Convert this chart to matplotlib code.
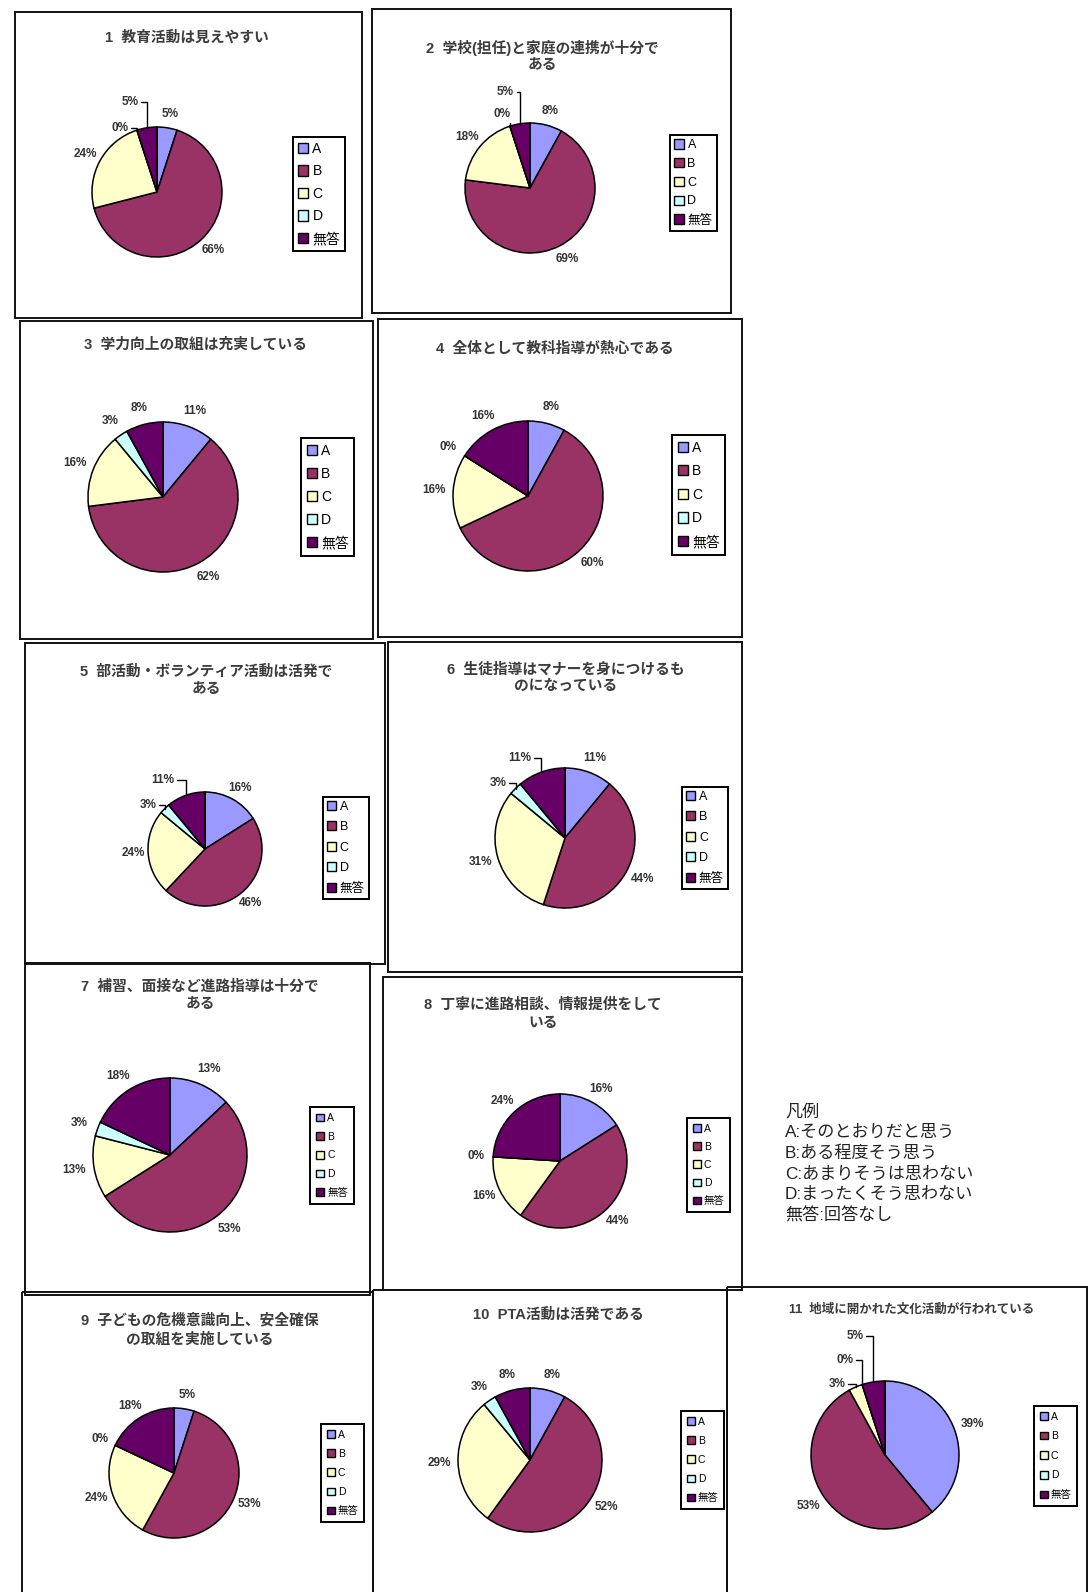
import matplotlib
matplotlib.use('Agg')
import matplotlib.pyplot as plt
from matplotlib.patches import Rectangle, Patch
import numpy as np

plt.rcParams['font.family'] = ['Liberation Sans', 'Noto Sans CJK JP', 'DejaVu Sans']

# ---------------- data ----------------
categories = ['A', 'B', 'C', 'D', '無答']
colors = ['#9999FF', '#993366', '#FFFFCC', '#CCFFFF', '#660066']

q1 = [5, 66, 24, 0, 5]
q2 = [8, 69, 18, 0, 5]
q3 = [11, 62, 16, 3, 8]
q4 = [8, 60, 16, 0, 16]
q5 = [16, 46, 24, 3, 11]
q6 = [11, 44, 31, 3, 11]
q7 = [13, 53, 13, 3, 18]
q8 = [16, 44, 16, 0, 24]
q9 = [5, 53, 24, 0, 18]
q10 = [8, 52, 29, 3, 8]
q11 = [39, 53, 3, 0, 5]

titles = [
    '1  教育活動は見えやすい',
    '2  学校(担任)と家庭の連携が十分で\nある',
    '3  学力向上の取組は充実している',
    '4  全体として教科指導が熱心である',
    '5  部活動・ボランティア活動は活発で\nある',
    '6  生徒指導はマナーを身につけるも\nのになっている',
    '7  補習、面接など進路指導は十分で\nある',
    '8  丁寧に進路相談、情報提供をして\nいる',
    '9  子どもの危機意識向上、安全確保\nの取組を実施している',
    '10  PTA活動は活発である',
    '11  地域に開かれた文化活動が行われている',
]

legend_notes = ['凡例', 'A:そのとおりだと思う', 'B:ある程度そう思う',
                'C:あまりそうは思わない', 'D:まったくそう思わない', '無答:回答なし']

values = [q1, q2, q3, q4, q5, q6, q7, q8, q9, q10, q11]

# ---------------- layout (pixels) ----------------
W, H = 1088, 1592
layout = [
    dict(box=(15, 12, 362, 318), pie=(157, 192, 65), title=(187, 38, 10.6, 17), leg=(293, 137, 10, 22.4, 0.35),
         lead={3: (-0.57, 0.98), 4: (-0.42, 1.38)}),
    dict(box=(372, 9, 731, 313), pie=(530, 188, 65), title=(542, 48, 10.6, 17), leg=(670, 135, 9, 19.2, 0.35),
         lead={3: (-0.43, 1.14), 4: (-0.38, 1.48)}),
    dict(box=(20, 321, 373, 639), pie=(163, 497, 75), title=(195, 345, 10.6, 17), leg=(301, 438, 10, 23, 0.4),
         lead={}),
    dict(box=(378, 319, 742, 637), pie=(528, 496, 75), title=(555, 349, 10.6, 17), leg=(672, 435, 10, 23.5, 0.4),
         lead={}),
    dict(box=(25, 643, 385, 964), pie=(205, 849, 57), title=(206, 672, 10.6, 17), leg=(323, 797, 9, 21, 0.3),
         lead={3: (-1.0, 0.77), 4: (-0.74, 1.21)}),
    dict(box=(388, 642, 742, 972), pie=(565, 838, 70), title=(566, 670, 10.6, 16), leg=(682, 787, 9, 21, 0.3),
         lead={3: (-0.96, 0.79), 4: (-0.64, 1.14)}),
    dict(box=(25, 963, 370, 1295), pie=(170, 1155, 77), title=(200, 987, 10.6, 17), leg=(310, 1107, 7.5, 19, 0.6),
         lead={}),
    dict(box=(383, 977, 742, 1290), pie=(560, 1161, 67), title=(543, 1005, 10.6, 18), leg=(687, 1118, 7.5, 18.5, 0.55),
         lead={}),
    dict(box=(22, 1292, 373, 1600), pie=(174, 1473, 65), title=(200, 1320, 10.6, 20), leg=(321, 1424, 7.5, 19.5, 0.55),
         lead={}),
    dict(box=(373, 1290, 727, 1600), pie=(530, 1460, 72), title=(558, 1315, 10.6, 17), leg=(681, 1411, 7.5, 19.5, 0.55),
         lead={}),
    dict(box=(727, 1287, 1087, 1600), pie=(885, 1455, 74), title=(912, 1309, 9.0, 17), leg=(1034, 1406, 7.5, 20, 0.55),
         lead={2: (-0.65, 0.96), 3: (-0.54, 1.28), 4: (-0.41, 1.61)}),
]

fig = plt.figure(figsize=(W / 100, H / 100), dpi=100)
bg = fig.add_axes([0, 0, 1, 1])
bg.set_xlim(0, W)
bg.set_ylim(H, 0)
bg.axis('off')

label_color = '#333333'
label_fs = 8.5

for vals, title, lay in zip(values, titles, layout):
    x0, y0, x1, y1 = lay['box']
    bg.add_patch(Rectangle((x0, y0), x1 - x0, y1 - y0, fill=False, edgecolor='#111111', lw=1.4))

    tx, ty, tfs, tdy = lay['title']
    for i, line in enumerate(title.split('\n')):
        bg.text(tx, ty + i * tdy, line, ha='center', va='center', fontsize=tfs,
                color='#3c3c3c', fontweight='bold')

    cx, cy, r = lay['pie']
    ax = fig.add_axes([(cx - r) / W, 1 - (cy + r) / H, 2 * r / W, 2 * r / H])
    wedges, _ = ax.pie(vals, colors=colors, startangle=90, counterclock=False, radius=1,
                       wedgeprops=dict(edgecolor='black', linewidth=1.1))
    ax.set_xlim(-1, 1)
    ax.set_ylim(-1, 1)
    ax.set_aspect('equal')
    ax.axis('off')

    for k, (w, v) in enumerate(zip(wedges, vals)):
        mid = np.deg2rad((w.theta1 + w.theta2) / 2)
        txt = f'{v}%'
        if k in lay['lead']:
            lx, ly = lay['lead'][k]
            ex, ey = np.cos(mid), np.sin(mid)
            ax.annotate(txt, xy=(ex, ey), xytext=(lx, ly), ha='center', va='center',
                        fontsize=label_fs, fontweight='bold', color=label_color, annotation_clip=False,
                        arrowprops=dict(arrowstyle='-', color='black', lw=1.0, shrinkA=0, shrinkB=0,
                                        relpos=(1, 0.5),
                                        connectionstyle='angle,angleA=0,angleB=90,rad=0'))
        else:
            ax.text(1.26 * np.cos(mid), 1.22 * np.sin(mid), txt, ha='center', va='center',
                    fontsize=label_fs, fontweight='bold', color=label_color, clip_on=False)

    lx, ly, lfs, pitch, bpad = lay['leg']
    fs_px = lfs * 100 / 72
    handles = [Patch(facecolor=c, edgecolor='black', linewidth=1.0) for c in colors]
    leg = fig.legend(handles, categories, loc='upper left', bbox_to_anchor=(lx / W, 1 - ly / H),
                     frameon=True, fancybox=False, edgecolor='black', framealpha=1,
                     borderpad=bpad, borderaxespad=0, handlelength=0.75, handleheight=0.75,
                     handletextpad=0.3, labelspacing=max(pitch / fs_px - 1.0, 0.1), fontsize=lfs)
    leg.get_frame().set_linewidth(1.4)

for i, line in enumerate(legend_notes):
    bg.text(785, 1112 + 20.6 * i, line, ha='left', va='center', fontsize=12.3, color='#222222')

fig.savefig('out.png', dpi=100)
